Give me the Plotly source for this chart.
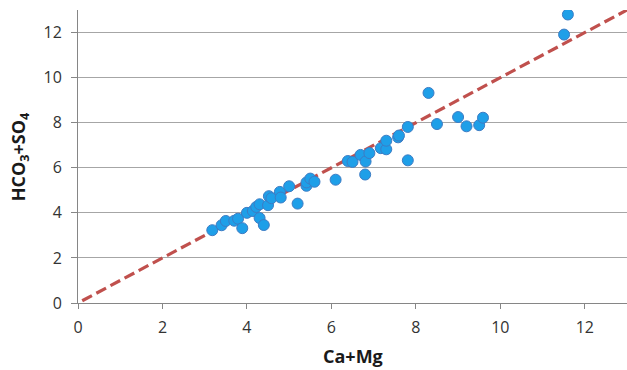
import plotly.graph_objects as go

# Sample measurements (meq/L)
ca_mg = [3.18, 3.40, 3.50, 3.70, 3.79, 3.89, 4.00, 4.14, 4.22, 4.30,
         4.30, 4.40, 4.50, 4.52, 4.58, 4.78, 4.80, 5.00, 5.20, 5.41,
         5.41, 5.50, 5.60, 6.10, 6.39, 6.50, 6.69, 6.81, 6.80, 6.90,
         7.17, 7.30, 7.30, 7.58, 7.60, 7.81, 7.81, 8.30, 8.50, 9.00,
         9.20, 9.50, 9.59, 11.51, 11.60]
hco3_so4 = [3.23, 3.45, 3.64, 3.65, 3.74, 3.32, 4.00, 4.08, 4.26, 4.38,
            3.77, 3.46, 4.34, 4.74, 4.65, 4.93, 4.68, 5.18, 4.41, 5.20,
            5.35, 5.52, 5.38, 5.47, 6.30, 6.26, 6.57, 6.28, 5.70, 6.65,
            6.87, 6.82, 7.20, 7.35, 7.43, 7.81, 6.33, 9.32, 7.94, 8.25,
            7.84, 7.89, 8.22, 11.91, 12.80]

# 1:1 reference line
line_x = [0.1, 13.0]
line_y = [0.1, 13.0]

x_ticks = [0, 2, 4, 6, 8, 10, 12]
y_ticks = [0, 2, 4, 6, 8, 10, 12]

font_family = "Open Sans, Lato, sans-serif"

fig = go.Figure()
fig.add_trace(go.Scatter(
    x=line_x, y=line_y, mode="lines",
    line=dict(color="#c0504d", width=3.2, dash="11px,5px"),
    hoverinfo="skip", showlegend=False,
))
fig.add_trace(go.Scatter(
    x=ca_mg, y=hco3_so4, mode="markers",
    marker=dict(size=11, color="#1e9fe8", line=dict(color="#3d7cc4", width=1)),
    showlegend=False,
))

fig.update_layout(
    width=627, height=370,
    margin=dict(l=78, r=0, t=10, b=67),
    paper_bgcolor="white", plot_bgcolor="white",
    font=dict(family=font_family, size=16, color="#333333"),
    xaxis=dict(
        range=[0, 13], tickvals=x_ticks, showgrid=False, zeroline=False,
        showline=True, linecolor="#868686", linewidth=1,
        ticks="outside", ticklen=5, tickcolor="#868686",
        ticklabelstandoff=5,
    ),
    yaxis=dict(
        range=[0, 13], tickvals=y_ticks, showgrid=True,
        gridcolor="#a6a6a6", gridwidth=1, zeroline=False,
        showline=True, linecolor="#868686", linewidth=1,
        ticks="outside", ticklen=6, tickcolor="#868686",
        ticklabelstandoff=6,
    ),
    annotations=[
        dict(text="<b>Ca+Mg</b>", xref="paper", yref="paper",
             x=0.5, y=-0.18, xanchor="center", yanchor="middle",
             showarrow=False, font=dict(size=18, color="#1a1a1a")),
        dict(text="<b>HCO<sub>3</sub>+SO<sub>4</sub></b>", xref="paper", yref="paper",
             x=-0.106, y=0.5, xanchor="center", yanchor="middle", textangle=-90,
             showarrow=False, font=dict(size=18, color="#1a1a1a")),
    ],
)

fig.write_html("out.html")
